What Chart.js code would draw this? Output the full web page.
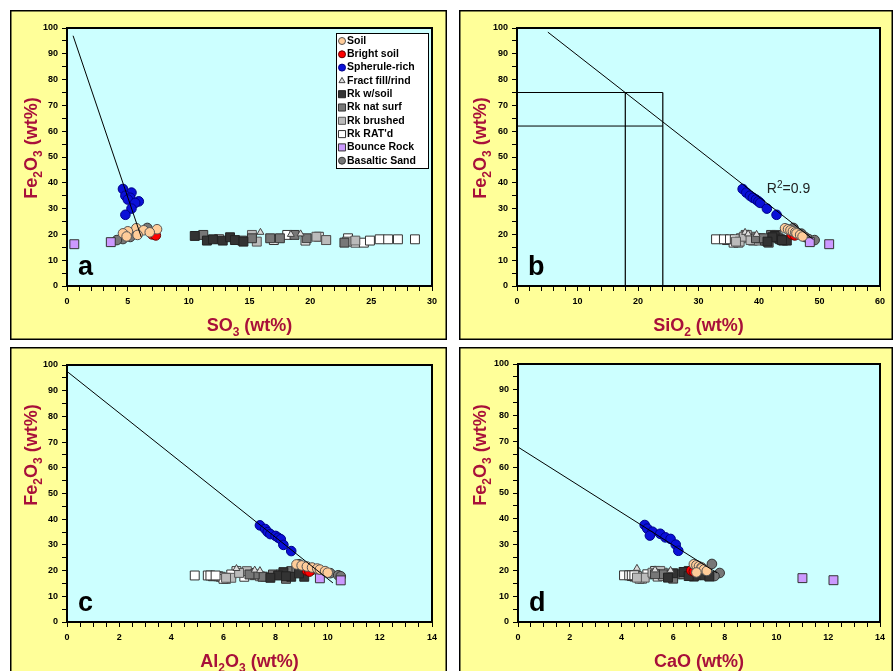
<!DOCTYPE html>
<html>
<head>
<meta charset="utf-8">
<script src="https://cdn.jsdelivr.net/npm/chart.js@4.4.0/dist/chart.umd.min.js"></script>
<style>
  body { margin: 0; background: #fff; width: 893px; height: 671px; overflow: hidden; position: relative; }
  canvas { position: absolute; }
</style>
</head>
<body>
<canvas id="chart_a" width="437" height="330" style="left:10px;top:10px"></canvas>
<canvas id="chart_b" width="434" height="330" style="left:459px;top:10px"></canvas>
<canvas id="chart_c" width="437" height="330" style="left:10px;top:347px"></canvas>
<canvas id="chart_d" width="434" height="330" style="left:459px;top:347px"></canvas>
<script>
// Fe2O3 (y on every panel) against SO3, SiO2, Al2O3, CaO, all wt%

const soil_fe    = [22.4, 22.0, 21.6, 21.2, 20.8, 20.4, 19.8, 19.2];
const soil_so3   = [5.7, 7.4, 6.3, 5.0, 6.8, 4.6, 5.8, 4.9];
const soil_sio2  = [44.3, 44.8, 45.2, 45.6, 46.0, 46.2, 46.8, 47.2];
const soil_al2o3 = [8.8, 9.0, 9.2, 9.4, 9.6, 9.7, 9.9, 10.0];
const soil_cao   = [6.8, 6.9, 7.0, 7.1, 7.1, 7.2, 7.3, 6.9];

const bright_fe    = [20.0, 19.6];
const bright_so3   = [7.0, 7.3];
const bright_sio2  = [45.4, 45.9];
const bright_al2o3 = [9.2, 9.3];
const bright_cao   = [6.7, 6.8];

const spher_fe    = [37.6, 36.2, 35.0, 34.2, 33.5, 32.8, 32.2, 30.0, 27.6];
const spher_so3   = [4.6, 5.3, 4.8, 5.2, 5.0, 5.9, 5.6, 5.3, 4.8];
const spher_sio2  = [37.3, 37.9, 38.5, 39.0, 39.5, 39.9, 40.2, 41.3, 42.9];
const spher_al2o3 = [7.4, 7.6, 7.7, 7.8, 8.0, 8.1, 8.2, 8.3, 8.6];
const spher_cao   = [4.9, 5.0, 5.2, 5.5, 5.1, 5.7, 5.9, 6.1, 6.2];

const fract_fe    = [20.8, 20.2, 20.0];
const fract_so3   = [15.9, 19.2, 18.4];
const fract_sio2  = [37.7, 38.2, 39.6];
const fract_al2o3 = [6.5, 7.2, 7.4];
const fract_cao   = [4.6, 5.3, 5.9];

const rksoil_fe    = [19.4, 17.6, 18.1, 17.6, 18.9, 17.8, 17.2];
const rksoil_so3   = [10.5, 11.5, 12.0, 12.8, 13.4, 13.8, 14.5];
const rksoil_sio2  = [42.6, 44.0, 43.5, 44.6, 42.2, 43.8, 41.4];
const rksoil_al2o3 = [8.3, 8.6, 8.1, 9.1, 8.9, 8.4, 7.8];
const rksoil_cao   = [6.4, 6.8, 7.2, 7.4, 6.0, 6.6, 5.8];

const rknat_fe    = [19.8, 17.6, 18.5, 18.5, 18.5, 19.8, 18.5, 16.8];
const rknat_so3   = [11.2, 14.4, 15.2, 16.7, 17.5, 18.7, 19.7, 22.8];
const rknat_sio2  = [42.9, 41.0, 40.2, 43.2, 39.5, 42.0, 40.8, 41.6];
const rknat_al2o3 = [8.6, 7.5, 7.9, 8.2, 7.2, 8.8, 7.0, 8.4];
const rknat_cao   = [6.6, 5.8, 6.2, 6.4, 5.6, 6.9, 5.3, 6.0];

const rkbrush_fe    = [19.8, 17.2, 18.2, 19.1, 17.8, 17.2, 17.6];
const rkbrush_so3   = [15.2, 15.6, 12.5, 20.5, 21.3, 23.0, 23.7];
const rkbrush_sio2  = [38.0, 36.8, 39.2, 37.5, 38.6, 36.2, 40.0];
const rkbrush_al2o3 = [6.9, 6.3, 7.2, 6.6, 7.4, 6.1, 7.6];
const rkbrush_cao   = [5.5, 4.9, 5.8, 5.2, 5.6, 4.6, 6.0];

const rkrat_fe    = [17.8, 19.8, 17.6, 19.1, 17.8, 18.5, 16.8, 16.8, 17.6, 18.1, 18.1, 18.1, 18.1];
const rkrat_so3   = [17.0, 18.1, 19.6, 20.7, 21.3, 23.1, 23.7, 24.4, 24.9, 25.7, 26.4, 27.2, 28.6];
const rkrat_sio2  = [35.6, 37.8, 36.2, 38.6, 34.7, 37.0, 35.8, 36.6, 39.0, 32.9, 34.2, 35.2, 36.0];
const rkrat_al2o3 = [5.8, 6.5, 5.9, 7.0, 5.6, 6.3, 6.1, 6.0, 6.8, 4.9, 5.4, 5.5, 5.7];
const rkrat_cao   = [4.6, 5.3, 4.5, 5.6, 4.4, 5.0, 4.8, 4.7, 5.4, 4.1, 4.3, 4.4, 4.5];

const bounce_fe    = [17.0, 16.2];
const bounce_so3   = [3.6, 0.6];
const bounce_sio2  = [48.4, 51.6];
const bounce_al2o3 = [9.7, 10.5];
const bounce_cao   = [11.0, 12.2];

const sand_fe    = [22.5, 20.3, 19.0, 18.2, 17.8];
const sand_so3   = [6.6, 4.9, 5.2, 4.6, 4.1];
const sand_sio2  = [45.7, 47.0, 47.6, 48.2, 49.2];
const sand_al2o3 = [8.9, 9.4, 10.1, 10.4, 10.5];
const sand_cao   = [7.5, 7.2, 7.8, 7.0, 7.6];

// fitted lines, end points
const fit_a_x = [0.5, 6.1];   const fit_a_y = [97, 19];
const fit_b_x = [5.1, 49.0];  const fit_b_y = [98.4, 18];
const fit_c_x = [0.0, 10.2];  const fit_c_y = [97.5, 15.2];
const fit_d_x = [0.0, 7.7];   const fit_d_y = [67.8, 19];

// guide box on the SiO2 panel
const guide_fe_hi = 75, guide_fe_lo = 62;
const guide_si_lo = 17.9, guide_si_hi = 24.1;

const FONT = '"Liberation Sans", Arial, sans-serif';
const TITLE_RED = '#A8103A';

const series = [
	{name: 'Soil', fe: soil_fe, so3: soil_so3, sio2: soil_sio2, al2o3: soil_al2o3, cao: soil_cao, style: 'circle', fill: '#FFCC99', line: '#555555', r: 4.8},
	{name: 'Bright soil', fe: bright_fe, so3: bright_so3, sio2: bright_sio2, al2o3: bright_al2o3, cao: bright_cao, style: 'circle', fill: '#FF0000', line: '#660000', r: 4.8},
	{name: 'Spherule-rich', fe: spher_fe, so3: spher_so3, sio2: spher_sio2, al2o3: spher_al2o3, cao: spher_cao, style: 'circle', fill: '#0A10D8', line: '#000088', r: 4.8},
	{name: 'Fract fill/rind', fe: fract_fe, so3: fract_so3, sio2: fract_sio2, al2o3: fract_al2o3, cao: fract_cao, style: 'triangle', fill: '#DDDDDD', line: '#444444', r: 4},
	{name: 'Rk w/soil', fe: rksoil_fe, so3: rksoil_so3, sio2: rksoil_sio2, al2o3: rksoil_al2o3, cao: rksoil_cao, style: 'rect', fill: '#333333', line: '#222222', r: 6.3},
	{name: 'Rk nat surf', fe: rknat_fe, so3: rknat_so3, sio2: rknat_sio2, al2o3: rknat_al2o3, cao: rknat_cao, style: 'rect', fill: '#777777', line: '#333333', r: 6.3},
	{name: 'Rk brushed', fe: rkbrush_fe, so3: rkbrush_so3, sio2: rkbrush_sio2, al2o3: rkbrush_al2o3, cao: rkbrush_cao, style: 'rect', fill: '#BBBBBB', line: '#555555', r: 6.3},
	{name: "Rk RAT'd", fe: rkrat_fe, so3: rkrat_so3, sio2: rkrat_sio2, al2o3: rkrat_al2o3, cao: rkrat_cao, style: 'rect', fill: '#FFFFFF', line: '#333333', r: 6.3},
	{name: 'Bounce Rock', fe: bounce_fe, so3: bounce_so3, sio2: bounce_sio2, al2o3: bounce_al2o3, cao: bounce_cao, style: 'rect', fill: '#CC99FF', line: '#333333', r: 6.3},
	{name: 'Basaltic Sand', fe: sand_fe, so3: sand_so3, sio2: sand_sio2, al2o3: sand_al2o3, cao: sand_cao, style: 'circle', fill: '#777777', line: '#333333', r: 4.8}
];

function point_sets(key) {
	return series.map(function(s) {
		return {
			label: s.name,
			data: s[key].map(function(v, i) { return {x: v, y: s.fe[i]}; }),
			pointStyle: s.style,
			pointRadius: s.r,
			pointHoverRadius: s.r,
			backgroundColor: s.fill,
			borderColor: s.line,
			borderWidth: 1,
			showLine: false
		};
	});
}

function line_set(xs, ys, width) {
	return {
		label: '',
		data: xs.map(function(v, i) { return {x: v, y: ys[i]}; }),
		showLine: true,
		borderColor: '#000',
		borderWidth: width || 1,
		pointRadius: 0,
		fill: false
	};
}

function on_step(v, major) {
	return Math.abs(v / major - Math.round(v / major)) < 1e-6;
}

// draw text with sub/superscript pieces: [[text, shift], ...] shift 1 = sub, -1 = sup
function draw_rich(ctx, parts, x, y, size, bold, align) {
	var weight = bold ? 'bold ' : '';
	var small = Math.round(size * 0.68);
	var widths = parts.map(function(p) {
		ctx.font = weight + (p[1] ? small : size) + 'px ' + FONT;
		return ctx.measureText(p[0]).width;
	});
	var total = widths.reduce(function(a, b) { return a + b; }, 0);
	var cx = align === 'left' ? x : x - total / 2;
	ctx.textAlign = 'left';
	ctx.textBaseline = 'alphabetic';
	parts.forEach(function(p, i) {
		ctx.font = weight + (p[1] ? small : size) + 'px ' + FONT;
		var dy = p[1] === 1 ? size * 0.25 : (p[1] === -1 ? -size * 0.4 : 0);
		ctx.fillText(p[0], cx, y + dy);
		cx += widths[i];
	});
}

const fe_title = [['Fe', 0], ['2', 1], ['O', 0], ['3', 1], [' (wt%)', 0]];

const panel_plugin = {
	id: 'panel',
	beforeDraw: function(chart) {
		var ctx = chart.ctx, a = chart.chartArea;
		ctx.save();
		ctx.fillStyle = '#FFFF99';
		ctx.fillRect(0, 0, chart.width, chart.height);
		ctx.strokeStyle = '#000';
		ctx.lineWidth = 1.5;
		ctx.strokeRect(0.75, 0.75, chart.width - 1.5, chart.height - 1.5);
		ctx.fillStyle = '#CCFFFF';
		ctx.fillRect(a.left, a.top, a.right - a.left, a.bottom - a.top);
		ctx.restore();
	},
	afterDraw: function(chart) {
		var ctx = chart.ctx, a = chart.chartArea, o = chart.options.plugins.panel;
		ctx.save();
		ctx.strokeStyle = '#000';
		ctx.lineWidth = 2;
		ctx.strokeRect(a.left, a.top, a.right - a.left, a.bottom - a.top);

		// axis titles
		ctx.fillStyle = TITLE_RED;
		draw_rich(ctx, o.xtitle, (a.left + a.right) / 2, a.bottom + 45, 18, true);
		ctx.save();
		ctx.translate(27, o.ytitle_y);
		ctx.rotate(-Math.PI / 2);
		draw_rich(ctx, fe_title, 0, 0, 18, true);
		ctx.restore();

		// panel letter
		ctx.fillStyle = '#000';
		ctx.font = 'bold 27px ' + FONT;
		ctx.textAlign = 'left';
		ctx.textBaseline = 'alphabetic';
		ctx.fillText(o.letter, a.left + 11, a.bottom - 11);

		if (o.r2) {
			ctx.fillStyle = '#222';
			var sx = chart.scales.x.getPixelForValue(o.r2[0]);
			var sy = chart.scales.y.getPixelForValue(o.r2[1]);
			draw_rich(ctx, [['R', 0], ['2', -1], ['=0.9', 0]], sx, sy, 14, false, 'left');
		}

		if (o.legend) {
			var lx = 326, ly = 23, lw = 92, lh = 135;
			ctx.fillStyle = '#fff';
			ctx.fillRect(lx, ly, lw, lh);
			ctx.strokeStyle = '#000';
			ctx.lineWidth = 1;
			ctx.strokeRect(lx + 0.5, ly + 0.5, lw, lh);
			series.forEach(function(s, i) {
				var y = ly + 8 + i * 13.3;
				ctx.fillStyle = s.fill;
				ctx.strokeStyle = s.line;
				ctx.lineWidth = 1;
				Chart.helpers.drawPoint(ctx, {pointStyle: s.style, rotation: 0, radius: s.style === 'rect' ? 5 : 3.5, borderWidth: 1}, lx + 6, y);
				ctx.fillStyle = '#000';
				ctx.font = 'bold 10.5px ' + FONT;
				ctx.textAlign = 'left';
				ctx.textBaseline = 'middle';
				ctx.fillText(s.name, lx + 11, y);
			});
		}
		ctx.restore();
	}
};

function axis(min, max, step, major, size, horizontal) {
	return {
		type: 'linear',
		min: min,
		max: max,
		afterFit: function(s) {
			if (horizontal) { s.height = size; } else { s.width = size; }
		},
		ticks: {
			stepSize: step,
			autoSkip: false,
			maxRotation: 0,
			padding: horizontal ? 5 : 4,
			color: '#000',
			font: {family: FONT, size: 9, weight: 'bold'},
			callback: function(v) { return on_step(v, major) ? String(v) : ''; }
		},
		grid: {drawOnChartArea: false, drawTicks: true, tickLength: 5, color: '#000', lineWidth: 1},
		border: {display: false}
	};
}

function make_chart(id, datasets, opts) {
	return new Chart(document.getElementById(id), {
		type: 'scatter',
		data: {datasets: datasets},
		options: {
			responsive: false,
			animation: false,
			events: [],
			layout: {padding: {left: 0, top: opts.top, right: opts.right, bottom: 0}},
			scales: {
				x: axis(0, opts.xmax, opts.xstep, opts.xmajor, opts.xheight, true),
				y: axis(0, 100, 5, 10, opts.ywidth, false)
			},
			plugins: {
				legend: {display: false},
				tooltip: {enabled: false},
				panel: {
					xtitle: opts.xtitle,
					ytitle_y: opts.ytitle_y,
					letter: opts.letter,
					legend: opts.legend,
					r2: opts.r2
				}
			}
		},
		plugins: [panel_plugin]
	});
}

make_chart('chart_a', [line_set(fit_a_x, fit_a_y)].concat(point_sets('so3')), {
	xmax: 30, xstep: 1, xmajor: 5, xheight: 54, ywidth: 57, top: 18, right: 15,
	xtitle: [['SO', 0], ['3', 1], [' (wt%)', 0]], ytitle_y: 138, letter: 'a', legend: true
});

make_chart('chart_b', [
	line_set(fit_b_x, fit_b_y),
	line_set([0, guide_si_hi], [guide_fe_hi, guide_fe_hi], 1.2),
	line_set([0, guide_si_hi], [guide_fe_lo, guide_fe_lo], 1),
	line_set([guide_si_lo, guide_si_lo], [0, guide_fe_hi], 1.2),
	line_set([guide_si_hi, guide_si_hi], [0, guide_fe_hi], 1.2)
].concat(point_sets('sio2')), {
	xmax: 60, xstep: 2, xmajor: 10, xheight: 54, ywidth: 58, top: 18, right: 13,
	xtitle: [['SiO', 0], ['2', 1], [' (wt%)', 0]], ytitle_y: 138, letter: 'b', r2: [41.3, 36]
});

make_chart('chart_c', [line_set(fit_c_x, fit_c_y)].concat(point_sets('al2o3')), {
	xmax: 14, xstep: 0.5, xmajor: 2, xheight: 55, ywidth: 57, top: 18, right: 15,
	xtitle: [['Al', 0], ['2', 1], ['O', 0], ['3', 1], [' (wt%)', 0]], ytitle_y: 108, letter: 'c'
});

make_chart('chart_d', [line_set(fit_d_x, fit_d_y)].concat(point_sets('cao')), {
	xmax: 14, xstep: 0.5, xmajor: 2, xheight: 55, ywidth: 59, top: 17, right: 13,
	xtitle: [['CaO (wt%)', 0]], ytitle_y: 108, letter: 'd'
});
</script>
</body>
</html>
